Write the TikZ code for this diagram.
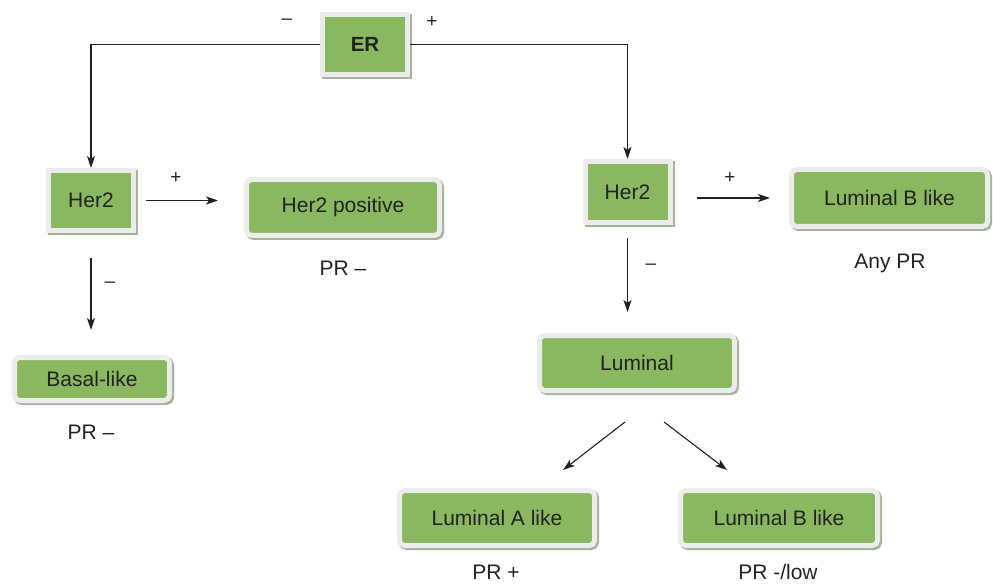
\documentclass[tikz,border=0pt]{standalone}
\usepackage{fontspec}
\setmainfont{Liberation Sans}
\usetikzlibrary{arrows.meta}
\definecolor{boxgreen}{HTML}{8AB860}
\definecolor{boxrim}{HTML}{ECECEC}
\definecolor{boxshade}{HTML}{A3B497}
\definecolor{ink}{HTML}{222222}
\begin{document}
\begin{tikzpicture}[x=1pt,y=-1pt,
  box/.style={fill=boxgreen, draw=boxrim, line width=5pt, text=ink,
    font=\fontsize{21pt}{25pt}\selectfont, inner sep=0pt,
    preaction={draw=boxshade, fill=boxshade, transform canvas={shift={(2pt,-2pt)}}}},
  sqbox/.style={box},
  rbox/.style={box, rounded corners=5pt},
  lbl/.style={text=ink, font=\fontsize{21pt}{25pt}\selectfont, inner sep=0pt},
  sign/.style={text=ink, font=\fontsize{19pt}{23pt}\selectfont, inner sep=0pt},
  arr/.style={draw=ink, line width=1.1pt, -{Stealth[length=12pt,width=8pt,inset=3pt]}}]
\useasboundingbox (0,0) rectangle (993,585);

\node[sqbox, minimum width=85pt, minimum height=60pt, font=\fontsize{20.5pt}{25pt}\selectfont\bfseries] (ER) at (365,44.5) {ER};
\node[sqbox, minimum width=85pt, minimum height=60pt] (Her2L) at (91,200.5) {Her2};
\node[rbox, minimum width=193pt, minimum height=56pt] (Her2pos) at (343,207.5) {Her2 positive};
\node[rbox, minimum width=155pt, minimum height=43pt] (Basal) at (92,379) {Basal-like};
\node[sqbox, minimum width=85pt, minimum height=61pt] (Her2R) at (627.5,192) {Her2};
\node[rbox, minimum width=196pt, minimum height=57pt] (LumBtop) at (889.5,198) {Luminal B like};
\node[rbox, minimum width=195pt, minimum height=55pt] (Luminal) at (637,363) {Luminal};
\node[rbox, minimum width=195pt, minimum height=55pt] (LumA) at (497,518) {Luminal A like};
\node[rbox, minimum width=197pt, minimum height=55pt] (LumBbot) at (779,518) {Luminal B like};

\node[lbl] (l1) at (343,268) {PR –};
\node[lbl] (l2) at (91,432) {PR –};
\node[lbl] (l3) at (890,263) {Any PR};
\node[lbl] (l4) at (496,572) {PR +};
\node[lbl] (l5) at (778,572) {PR -/low};

\node[sign] (s1) at (287,22) {–};
\node[sign] (s2) at (432,22) {+};
\node[sign] (s3) at (176,178) {+};
\node[sign] (s4) at (110,285) {–};
\node[sign] (s5) at (730,178) {+};
\node[sign] (s6) at (651,267) {–};

\draw[arr] (ER.west) -| (Her2L.north);
\draw[arr] (ER.east) -| (Her2R.north);
\draw[arr, shorten <=10pt, shorten >=26pt] (Her2L.east) -- (Her2L.east -| Her2pos.west);
\draw[arr, shorten <=25pt, shorten >=25pt] (Her2L.south) -- (Her2L.south |- Basal.north);
\draw[arr, shorten <=24pt, shorten >=19pt] (Her2R.east |- LumBtop.west) -- (LumBtop.west);
\draw[arr, shorten <=13pt, shorten >=21pt] (Her2R.south) -- (Her2R.south |- Luminal.north);
\draw[arr] ([xshift=-12pt, yshift=-29pt]Luminal.south) -- ([xshift=66pt, yshift=18pt]LumA.north);
\draw[arr] ([xshift=27pt, yshift=-29pt]Luminal.south) -- ([xshift=-52pt, yshift=18pt]LumBbot.north);
\end{tikzpicture}
\end{document}
